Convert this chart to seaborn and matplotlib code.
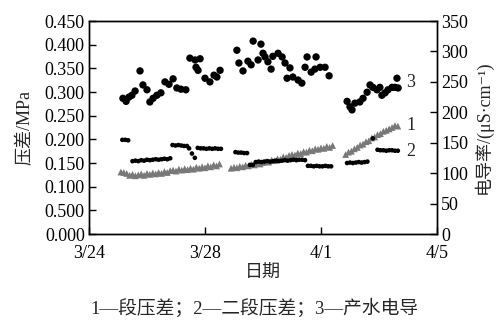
import numpy as np
import pandas as pd
import matplotlib
matplotlib.use("Agg")
import matplotlib.pyplot as plt
import seaborn as sns

# x axis: days counted from 3/24
x_ticks = [0, 4, 8, 12]
x_labels = ["3/24", "3/28", "4/1", "4/5"]

left_ticks = [0.0, 0.05, 0.10, 0.15, 0.20, 0.25, 0.30, 0.35, 0.40, 0.45]
# the reference prints "0.500" at 0.05
left_labels = ["0.000", "0.500", "0.100", "0.150", "0.200", "0.250",
               "0.300", "0.350", "0.400", "0.450"]
right_ticks = [0, 50, 100, 150, 200, 250, 300, 350]

# series 1: 一段压差 (MPa), logged every 0.1 day, three runs
s1_starts = [1.1, 4.9, 8.85]
s1_run1 = [0.131, 0.130, 0.128, 0.124, 0.126, 0.123, 0.125, 0.127, 0.124, 0.128,
           0.126, 0.129, 0.127, 0.130, 0.128, 0.132, 0.130, 0.134, 0.135, 0.133,
           0.137, 0.135, 0.138, 0.136, 0.139, 0.137, 0.141, 0.139, 0.142, 0.140,
           0.144, 0.142, 0.146, 0.144, 0.148]
s1_run2 = [0.139, 0.141, 0.140, 0.143, 0.142, 0.145, 0.144, 0.147, 0.146, 0.149,
           0.148, 0.151, 0.153, 0.152, 0.156, 0.155, 0.159, 0.158, 0.163, 0.162,
           0.166, 0.168, 0.167, 0.171, 0.170, 0.174, 0.173, 0.177, 0.176, 0.180,
           0.179, 0.182, 0.181, 0.185, 0.183, 0.187]
s1_run3 = [0.168, 0.173, 0.175, 0.180, 0.183, 0.188, 0.190, 0.195, 0.197, 0.203,
           0.205, 0.210, 0.212, 0.217, 0.219, 0.222, 0.225, 0.229, 0.228]

# series 2: 二段压差 (MPa), logged every 0.1 day, in runs
s2_starts = [1.15, 1.50, 2.88, 3.45, 3.75, 5.05, 5.55, 5.75, 7.55, 8.90, 9.79, 9.95]
s2_runs = [
    [0.199, 0.199, 0.198],
    [0.154, 0.155, 0.154, 0.156, 0.155, 0.157, 0.156, 0.157, 0.158, 0.157,
     0.158, 0.159, 0.158, 0.160],
    [0.188, 0.187, 0.188, 0.187, 0.186, 0.186],
    [0.181, 0.170, 0.161],
    [0.182, 0.181, 0.181, 0.180, 0.181, 0.180, 0.181, 0.180, 0.180],
    [0.173, 0.172, 0.172, 0.171, 0.171],
    [0.146, 0.146],
    [0.152, 0.153, 0.152, 0.153, 0.154, 0.153, 0.154, 0.155, 0.154, 0.155,
     0.156, 0.155, 0.156, 0.157, 0.156, 0.157, 0.157, 0.156],
    [0.144, 0.144, 0.143, 0.144, 0.143, 0.143, 0.144, 0.143, 0.143],
    [0.150, 0.151, 0.150, 0.151, 0.152, 0.151, 0.152, 0.153],
    [0.202],
    [0.178, 0.177, 0.177, 0.176, 0.177, 0.177, 0.176, 0.176],
]

# series 3: 产水电导 (uS/cm)
s3_day = [1.17, 1.28, 1.38, 1.48, 1.59, 1.76, 1.86, 2.00, 2.10, 2.21, 2.34, 2.48,
          2.62, 2.76, 2.90, 3.03, 3.17, 3.34, 3.48, 3.66, 3.83, 3.69, 3.76, 4.00,
          4.17, 4.31, 4.41, 4.52,
          5.10, 5.17, 5.31, 5.48, 5.59, 5.66, 5.93, 6.00, 5.83, 6.07, 6.17, 6.28,
          6.34, 6.52, 6.66, 6.76, 6.93, 6.83, 7.03, 7.21, 7.34, 7.52, 7.45, 7.66,
          7.83, 7.79, 7.97, 8.14, 8.28,
          8.90, 9.00, 9.07, 9.17, 9.34, 9.45, 9.59, 9.69, 9.79, 9.93, 10.03, 10.10,
          10.21, 10.31, 10.45, 10.55, 10.62, 10.66]
s3_val = [223, 218, 225, 228, 235, 268, 245, 237, 217, 223, 228, 232,
          250, 246, 255, 240, 238, 237, 289, 286, 288, 274, 269, 256,
          250, 261, 258, 269,
          302, 281, 268, 284, 278, 317, 312, 297, 286, 291, 283, 271,
          292, 297, 291, 281, 273, 256, 258, 253, 248, 291, 274, 266,
          291, 271, 274, 274, 260,
          218, 209, 204, 215, 217, 223, 233, 245, 241, 237, 241, 228,
          232, 237, 241, 241, 256, 240]


def runs_to_frame(starts, runs, step=0.1):
    rows = []
    for start, vals in zip(starts, runs):
        for i, v in enumerate(vals):
            rows.append((start + i * step, v))
    return pd.DataFrame(rows, columns=["day", "value"])


df1 = runs_to_frame(s1_starts, [s1_run1, s1_run2, s1_run3])
df2 = runs_to_frame(s2_starts, s2_runs)
df3 = pd.DataFrame({"day": s3_day, "value": s3_val})

sns.set_style("ticks")
plt.rcParams['font.family'] = ['Liberation Serif', 'Noto Sans CJK SC', 'DejaVu Serif']
plt.rcParams['axes.unicode_minus'] = False

fig = plt.figure(figsize=(4.98, 3.23), dpi=100)
ax = fig.add_axes([0.1787, 0.2755, 0.6988, 0.6594])
ax2 = ax.twinx()

sns.scatterplot(data=df1, x="day", y="value", ax=ax, marker="^", s=24,
                color="#787878", edgecolor="none", linewidth=0)
sns.scatterplot(data=df2, x="day", y="value", ax=ax, marker="o", s=11,
                color="black", edgecolor="none", linewidth=0)
sns.scatterplot(data=df3, x="day", y="value", ax=ax2, marker="o", s=28,
                color="black", edgecolor="none", linewidth=0)

ax.set_xlim(0, 12)
ax.set_ylim(0, 0.45)
ax2.set_ylim(0, 350)
ax.set_xticks(x_ticks)
ax.set_xticklabels(x_labels)
ax.set_yticks(left_ticks)
ax.set_yticklabels(left_labels)
ax2.set_yticks(right_ticks)

for a in (ax, ax2):
    a.tick_params(direction="in", length=5, width=1, labelsize=13,
                  colors="black", pad=3)
    for sp in a.spines.values():
        sp.set_visible(True)
        sp.set_linewidth(1)
        sp.set_color("black")
ax.tick_params(axis="x", pad=8)

ax.set_xlabel("日期", fontsize=13, labelpad=2)
ax.set_ylabel("压差/MPa", fontsize=13, labelpad=8)
ax2.set_ylabel("电导率/(μS·cm⁻¹)", fontsize=13, labelpad=4)

# series numbers at the right ends
ax.text(10.95, 0.321, "3", fontsize=13, ha="left", va="center")
ax.text(10.95, 0.230, "1", fontsize=13, ha="left", va="center")
ax.text(10.95, 0.174, "2", fontsize=13, ha="left", va="center")

fig.text(0.51, 1 - 308 / 323, "1—段压差；2—二段压差；3—产水电导",
         ha="center", va="center", fontsize=13.5)

fig.savefig("out.png", dpi=100)
